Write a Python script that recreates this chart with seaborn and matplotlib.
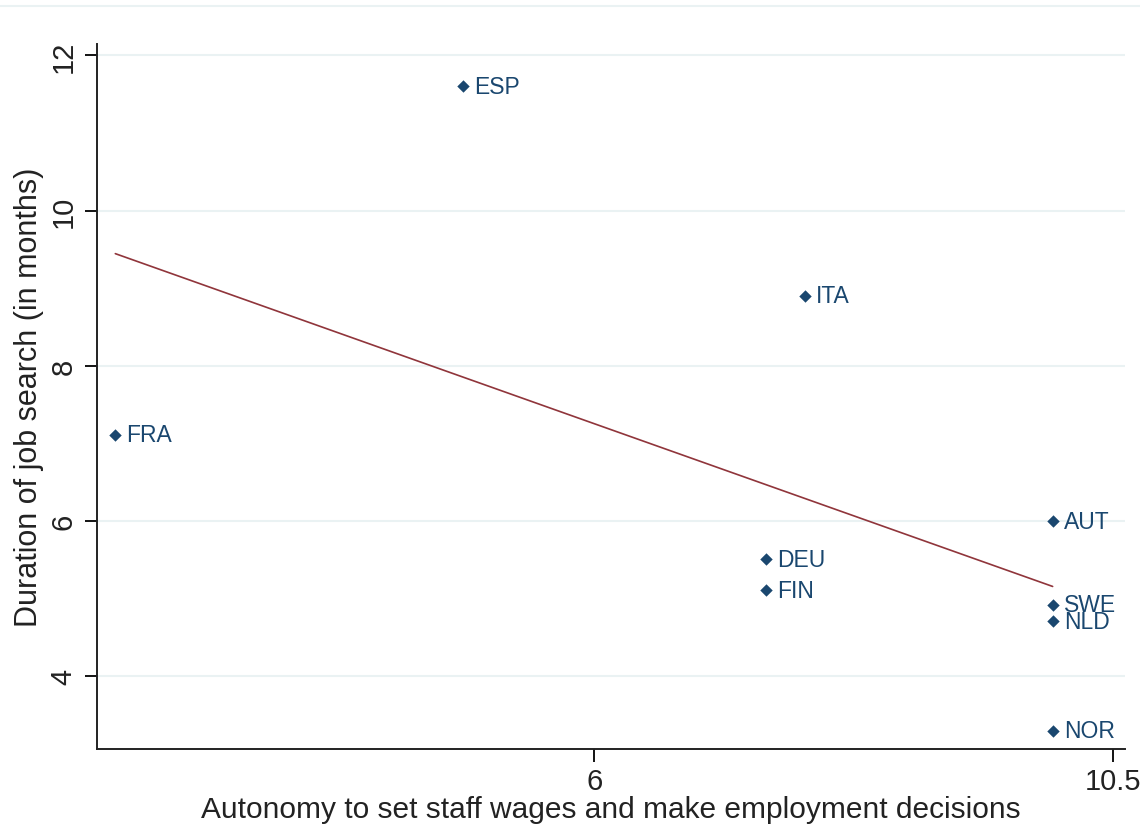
import numpy as np
import pandas as pd
import matplotlib
matplotlib.use("Agg")
import matplotlib.pyplot as plt
import seaborn as sns
from matplotlib.lines import Line2D

# Country codes and values
countries = ["FRA", "ESP", "ITA", "DEU", "FIN", "AUT", "SWE", "NLD", "NOR"]
autonomy = [1.84, 4.86, 7.83, 7.49, 7.49, 9.98, 9.98, 9.98, 9.98]
job_search = [7.11, 11.6, 8.9, 5.51, 5.11, 6.0, 4.92, 4.71, 3.30]

df = pd.DataFrame({"country": countries, "autonomy": autonomy, "job_search": job_search})

sns.set_theme(style="white")
plt.rcParams["font.family"] = ["Liberation Sans", "DejaVu Sans"]

navy = "#1a476f"
maroon = "#90353b"

fig = plt.figure(figsize=(11.4, 8.29), dpi=100)
ax = fig.add_axes([0.085, 0.095, 0.902, 0.851])

# Grid lines at the y ticks
for yv in [4, 6, 8, 10, 12]:
    ax.axhline(yv, color="#eaf2f3", lw=1.5, zorder=0)

# Scatter points
sns.scatterplot(data=df, x="autonomy", y="job_search", marker="D", s=40,
                color=navy, edgecolor=navy, linewidth=0, ax=ax, zorder=3)

# Fitted line
sns.regplot(data=df, x="autonomy", y="job_search", scatter=False, ci=None,
            line_kws={"color": maroon, "lw": 1.2}, ax=ax)

# Country labels
for _, r in df.iterrows():
    ax.annotate(r["country"], (r["autonomy"], r["job_search"]), xytext=(8, 0),
                textcoords="offset points", va="center", ha="left",
                fontsize=16.5, color=navy)

ax.set_xlim(1.68, 10.61)
ax.set_ylim(3.06, 12.15)
ax.set_xticks([6, 10.5])
ax.set_xticklabels(["6", "10.5"])
ax.set_yticks([4, 6, 8, 10, 12])
ax.set_yticklabels(["4", "6", "8", "10", "12"], rotation=90, va="center")

ax.tick_params(axis="both", direction="out", length=9, width=1.3, colors="black",
               labelsize=21, pad=5, left=True, bottom=True)
ax.tick_params(axis="x", labelcolor="#222222", pad=4)
ax.tick_params(axis="y", labelcolor="#222222")

for side in ["top", "right"]:
    ax.spines[side].set_visible(False)
for side in ["left", "bottom"]:
    ax.spines[side].set_color("#222222")
    ax.spines[side].set_linewidth(1.4)

ax.set_xlabel("Autonomy to set staff wages and make employment decisions",
              fontsize=21.5, color="#222222", labelpad=0)
ax.set_ylabel("Duration of job search (in months)", fontsize=22, color="#222222",
              labelpad=4)

# Thin light border line at the very top
fig.add_artist(Line2D([0, 1], [0.992, 0.992], transform=fig.transFigure,
                      color="#eaf2f3", lw=1.5))

fig.savefig("out.png", dpi=100, facecolor="white")
